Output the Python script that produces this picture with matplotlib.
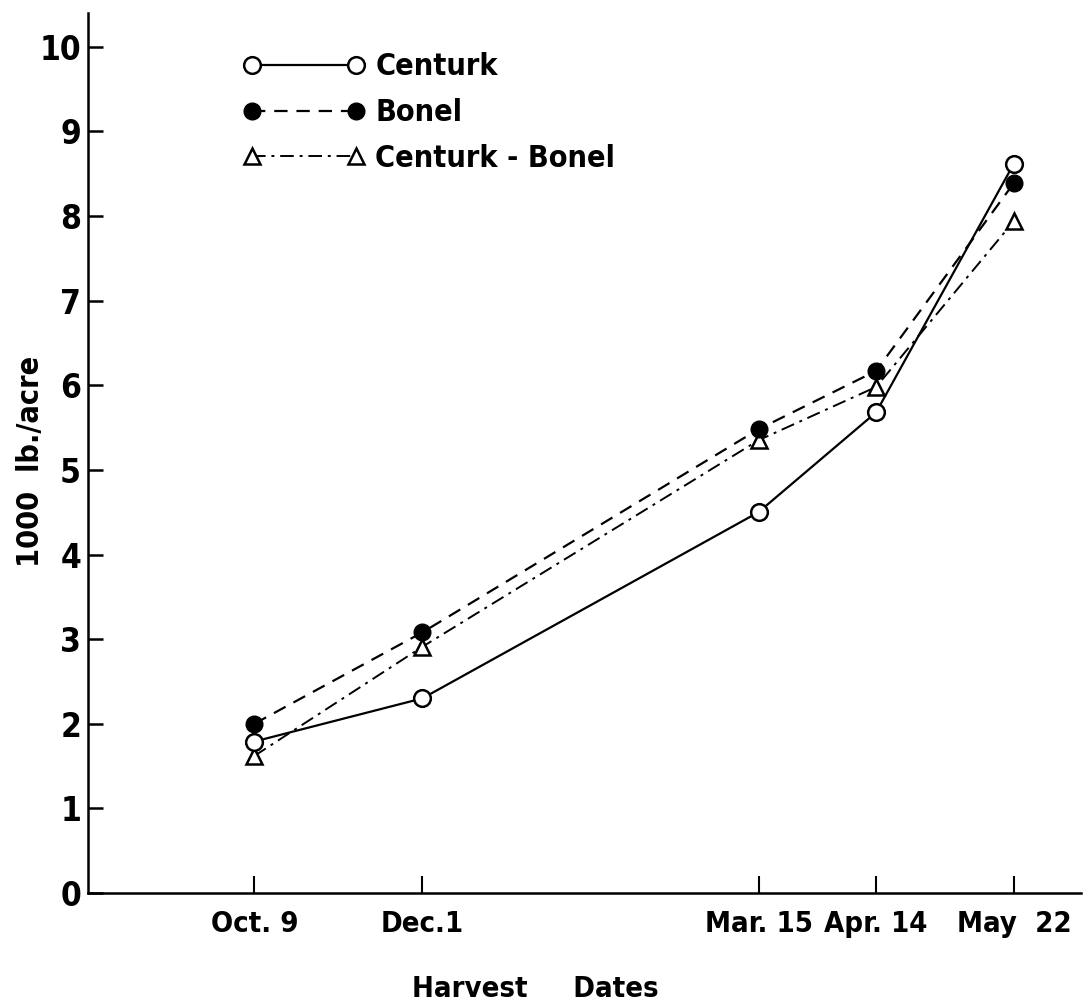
import matplotlib
matplotlib.use("Agg")
import matplotlib.pyplot as plt

# harvest dates, placed
dates = ["Oct. 9", "Dec.1", "Mar. 15", "Apr. 14", "May  22"]
date_pos = [0.0, 1.0, 3.0, 3.7, 4.52]

centurk = [1.79, 2.30, 4.50, 5.68, 8.62]
bonel = [2.00, 3.08, 5.48, 6.17, 8.39]
centurk_bonel = [1.62, 2.91, 5.35, 5.98, 7.94]

plt.rcParams['font.family'] = ['DejaVu Sans']
plt.rcParams['font.stretch'] = 'condensed'
plt.rcParams['font.weight'] = 'bold'
plt.rcParams['axes.labelweight'] = 'bold'

fig = plt.figure(figsize=(10.89, 10.07), dpi=100)
ax = fig.add_axes([0.0808, 0.1132, 0.912, 0.874])

ax.plot(date_pos, centurk, color="black", lw=1.6, linestyle="-",
        marker="o", markersize=12, markerfacecolor="white",
        markeredgecolor="black", markeredgewidth=1.8, label="Centurk", zorder=3)
ax.plot(date_pos, bonel, color="black", lw=1.6, linestyle=(0, (6, 4)),
        marker="o", markersize=12, markerfacecolor="black",
        markeredgecolor="black", label="Bonel", zorder=4)
ax.plot(date_pos, centurk_bonel, color="black", lw=1.4, linestyle=(0, (7, 3, 1.5, 3)),
        marker="^", markersize=12, markerfacecolor="white",
        markeredgecolor="black", markeredgewidth=1.8, label="Centurk - Bonel", zorder=2)

ax.set_xlim(-0.99, 4.92)
ax.set_ylim(0, 10.4)
ax.set_xticks(date_pos)
ax.set_xticklabels(dates)
ax.set_yticks(range(0, 11))

ax.spines['top'].set_visible(False)
ax.spines['right'].set_visible(False)
ax.spines['left'].set_linewidth(1.8)
ax.spines['bottom'].set_linewidth(1.8)
ax.tick_params(axis='y', direction='in', length=11, width=1.8, pad=5, labelsize=24)
ax.tick_params(axis='x', direction='in', length=12, width=1.5, pad=12, labelsize=21)

ax.set_xlabel("Harvest     Dates", fontsize=21)
ax.xaxis.set_label_coords(0.45, -0.093)
ax.set_ylabel("1000  lb./acre", fontsize=22)
ax.yaxis.set_label_coords(-0.058, 0.49)
ax.yaxis.label.set_va("center")

ax.legend(loc="upper left", bbox_to_anchor=(0.156, 0.955), frameon=False,
          numpoints=2, handlelength=4.0, handletextpad=0.33, labelspacing=0.55,
          borderpad=0, borderaxespad=0, fontsize=22)

fig.savefig("out.png", dpi=100)
